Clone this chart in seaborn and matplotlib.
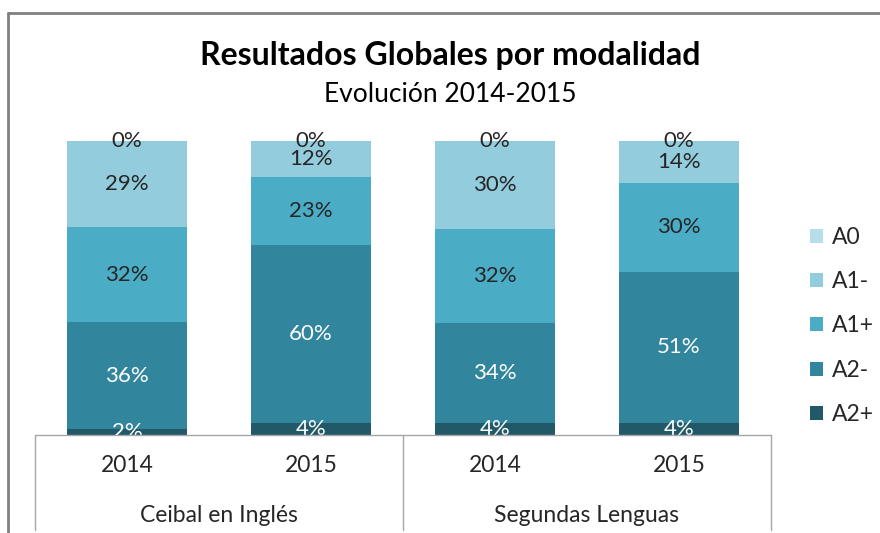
import numpy as np
import pandas as pd
import seaborn as sns
import matplotlib.pyplot as plt
from matplotlib.lines import Line2D
from matplotlib.patches import Patch

sns.set_style("white")
plt.rcParams["font.family"] = ["Lato", "DejaVu Sans"]

# DATA
bars = ["Ceibal 2014", "Ceibal 2015", "Segundas 2014", "Segundas 2015"]
years = ["2014", "2015", "2014", "2015"]
groups = ["Ceibal en Inglés", "Segundas Lenguas"]
levels = ["A2+", "A2-", "A1+", "A1-", "A0"]  # bottom to top
a2_plus = [2, 4, 4, 4]
a2_minus = [36, 60, 34, 51]
a1_plus = [32, 23, 32, 30]
a1_minus = [29, 12, 30, 14]
a0 = [0, 0, 0, 0]
colors = {"A2+": "#215968", "A2-": "#31859c", "A1+": "#4bacc6",
          "A1-": "#93cddd", "A0": "#b7dee8"}

df = pd.DataFrame({"bar": bars, "A2+": a2_plus, "A2-": a2_minus,
                   "A1+": a1_plus, "A1-": a1_minus, "A0": a0})
tot = df[levels].sum(axis=1)
share = df[levels].div(tot, axis=0)
cum = share.cumsum(axis=1)

fig = plt.figure(figsize=(8.8, 5.33), dpi=100)
W, H = 880, 533
ax = fig.add_axes([35 / W, (H - 435) / H, (771 - 35) / W, (435 - 141) / H])

# stacked bars: draw cumulative totals from the top level down
for lev in levels[::-1]:
    sns.barplot(x=df["bar"], y=cum[lev], color=colors[lev], width=0.647,
                saturation=1, ax=ax, order=bars, linewidth=0, edgecolor="none")

# data labels
fs = 16
for i in range(len(bars)):
    for lev in levels:
        mid = cum[lev].iloc[i] - share[lev].iloc[i] / 2
        tc = "white" if lev in ("A2+", "A2-") else "#262626"
        ax.text(i, mid, f"{df[lev].iloc[i]}%", ha="center", va="center",
                fontsize=fs, color=tc)

ax.set_ylim(0, 1)
ax.set_xlim(-0.5, 3.5)
ax.set_xlabel("")
ax.set_ylabel("")
ax.set_yticks([])
ax.set_xticks(range(4))
ax.set_xticklabels([])
sns.despine(ax=ax, left=True, top=True, right=True, bottom=True)

# category axis box
lc = "#a6a6a6"
fig.add_artist(Line2D([35 / W, 771 / W], [(H - 435) / H] * 2, color=lc, lw=1))
for xp in [35, 403, 771]:
    fig.add_artist(Line2D([xp / W] * 2, [(H - 435) / H, (H - 530) / H], color=lc, lw=1))
for i, y in enumerate(years):
    fig.text((127.5 + 184 * i) / W, (H - 466) / H, y, ha="center", va="center",
             fontsize=16.5, color="#262626")
for j, g in enumerate(groups):
    fig.text((219 + 368 * j) / W, (H - 515) / H, g, ha="center", va="center",
             fontsize=16.5, color="#262626")

# chart border
bc = "#808080"
fig.add_artist(Line2D([8 / W, 1], [(H - 13) / H] * 2, color=bc, lw=2))
fig.add_artist(Line2D([8 / W] * 2, [(H - 13) / H, 0], color=bc, lw=2))

# titles
fig.text(450 / W, (H - 55) / H, "Resultados Globales por modalidad", ha="center",
         va="center", fontsize=23, fontweight="bold", color="black")
fig.text(450 / W, (H - 95) / H, "Evolución 2014-2015", ha="center", va="center",
         fontsize=19, color="black")

# legend
handles = [Patch(facecolor=colors[l], edgecolor="none", label=l) for l in levels[::-1]]
fig.legend(handles=handles, loc="center left", bbox_to_anchor=(810 / W, (H - 326) / H),
           frameon=False, fontsize=16.5, handlelength=0.57, handleheight=0.57,
           labelspacing=1.02, handletextpad=0.4, borderpad=0, borderaxespad=0)

fig.savefig("out.png", dpi=100)
